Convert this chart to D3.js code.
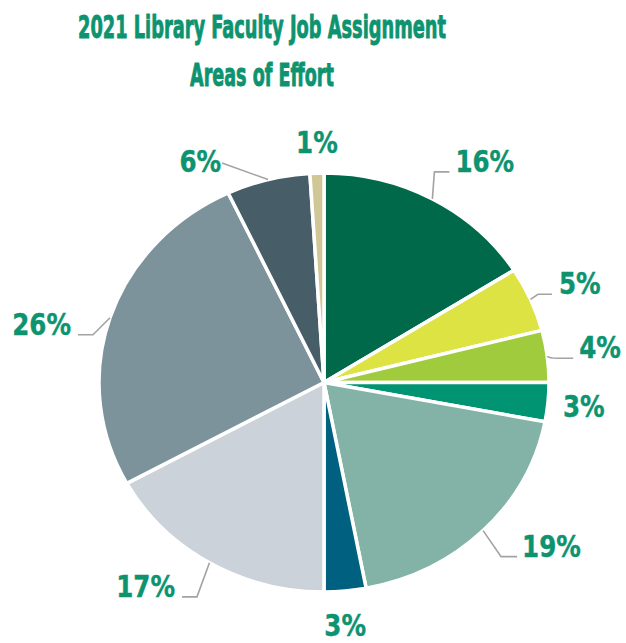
<!DOCTYPE html>
<html><head><meta charset="utf-8">
<script src="https://cdn.jsdelivr.net/npm/d3@7"></script>
<style>html,body{margin:0;padding:0;background:#fff;overflow:hidden}</style>
</head><body>
<svg id="c" width="626" height="643"></svg>
<script>
// ---- data ----
const titleLines = ["2021 Library Faculty Job Assignment", "Areas of Effort"];
const sliceValues = [16, 5, 4, 3, 19, 3, 17, 26, 6, 1];
const sliceLabels = ["16%", "5%", "4%", "3%", "19%", "3%", "17%", "26%", "6%", "1%"];

// ---- styles / layout ----
const palette = ["#00694a", "#dce343", "#9fcb3c", "#009472", "#83b2a6", "#006080", "#cbd2d9", "#7c939c", "#475d68", "#d0c796"];
const textColor = "#0d9370";
const leaderColor = "#a3a3a3";
const cx = 324, cy = 382.5, ry = 209.5, rx = 225;
// per-label leader geometry relative to the slice's outer edge at mid-angle
const labelLayout = [
  {ex: 2, ey: -27, leg: 15, gap: 6, side: 1, leader: true},
  {ex: 7.5, ey: -5, leg: 14, gap: 7, side: 1, leader: true},
  {ex: 10, ey: 2, leg: 16, gap: 6, side: 1, leader: true, curve: true},
  {ex: 15, ey: 15, leg: 0, gap: 0, side: 1, leader: false},
  {ex: 18, ey: 26, leg: 16, gap: 5, side: 1, leader: true},
  {ex: 0, ey: 44.5, leg: 0, gap: 0, side: 0, leader: false},
  {ex: -12.5, ey: 34, leg: 15, gap: 7, side: -1, leader: true},
  {ex: -17, ey: 17, leg: 15, gap: 7, side: -1, leader: true},
  {ex: -46, ey: -16.6, leg: 0, gap: 1, side: -1, leader: true, tdy: 9},
  {ex: 0, ey: -20, leg: 0, gap: 0, side: 0, leader: false}
];
const fontFam = "'DejaVu Sans Condensed', 'DejaVu Sans', sans-serif";

const svg = d3.select("#c");

// title (squeezed horizontally to mimic a condensed display face)
const titleCenter = 262;
const titleSpecs = [{w: 368, y: 38}, {w: 144, y: 86}];
titleLines.forEach((t, i) => {
  const tg = svg.append("g");
  const txt = tg.append("text")
    .attr("text-anchor", "middle")
    .attr("font-family", fontFam)
    .attr("font-weight", "bold")
    .attr("font-size", 32)
    .attr("fill", textColor)
    .attr("stroke", textColor)
    .attr("stroke-width", 0.9)
    .attr("stroke-linejoin", "round")
    .text(t);
  const nat = txt.node().getComputedTextLength();
  tg.attr("transform", `translate(${titleCenter},${titleSpecs[i].y}) scale(${titleSpecs[i].w / nat},1)`);
});

// pie
const pie = d3.pie().sort(null).value(d => d);
const arcs = pie(sliceValues);
const arc = d3.arc().innerRadius(0).outerRadius(ry);
const sx = rx / ry;
const g = svg.append("g").attr("transform", `translate(${cx},${cy}) scale(${sx},1)`);
g.selectAll("path").data(arcs).join("path")
  .attr("d", arc)
  .attr("fill", (d, i) => palette[i])
  .attr("stroke", "#fff")
  .attr("stroke-width", 3.5)
  .attr("stroke-linejoin", "round")
  .attr("vector-effect", "non-scaling-stroke");

// labels
arcs.forEach((d, i) => {
  const L = labelLayout[i];
  const a = (d.startAngle + d.endAngle) / 2;
  const px = cx + rx * Math.sin(a);
  const py = cy - ry * Math.cos(a);
  const elx = px + L.ex, ely = py + L.ey;
  const legEnd = elx + L.side * L.leg;
  if (L.leader) {
    const p = d3.path();
    p.moveTo(px, py);
    if (L.curve) p.quadraticCurveTo(px + 2, ely, elx, ely);
    else p.lineTo(elx, ely);
    if (L.leg) p.lineTo(legEnd, ely);
    svg.append("path").attr("d", p.toString())
      .attr("fill", "none").attr("stroke", leaderColor).attr("stroke-width", 1.6);
  }
  const tx = legEnd + L.side * L.gap;
  const ty = ely + (L.tdy || 0);
  svg.append("text")
    .attr("transform", `translate(${tx},${ty}) scale(0.88,1)`)
    .attr("text-anchor", L.side > 0 ? "start" : (L.side < 0 ? "end" : "middle"))
    .attr("font-family", fontFam)
    .attr("font-weight", "bold")
    .attr("font-size", 31)
    .attr("fill", textColor)
    .attr("stroke", textColor)
    .attr("stroke-width", 0.4)
    .text(sliceLabels[i]);
});
</script>
</body></html>
